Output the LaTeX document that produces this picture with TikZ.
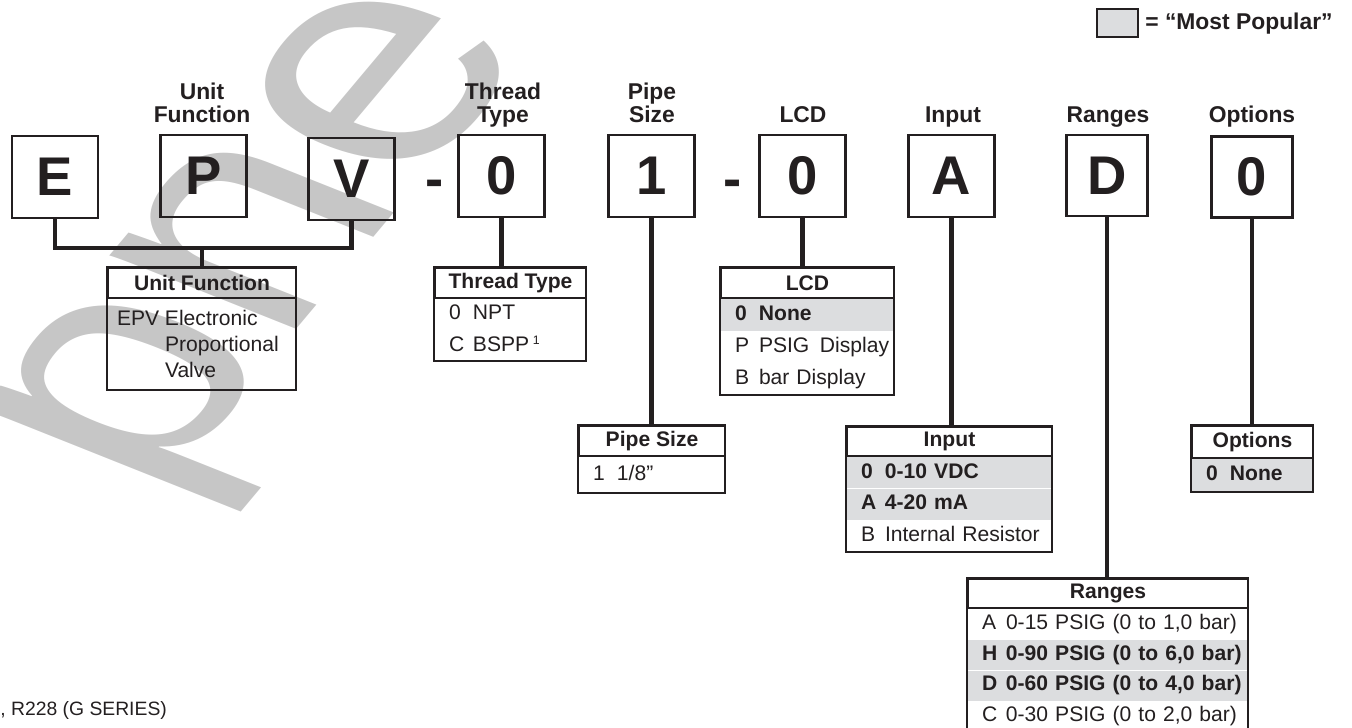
\documentclass[tikz,border=0pt]{standalone}
\usepackage{fontspec}
\setmainfont{Liberation Sans}
\usepackage{xcolor}
\definecolor{ink}{HTML}{231F20}
\definecolor{popular}{HTML}{DCDDDF}
\definecolor{stamp}{HTML}{C6C6C6}
\usepackage{tikz}
\usetikzlibrary{positioning}

\newcommand{\opt}[2]{\hspace*{0.28cm}\makebox[0.48cm][l]{#1}#2}

\begin{document}
\begin{tikzpicture}[
  letter/.style={draw=ink,line width=1.3pt,minimum width=1.72cm,minimum height=1.64cm,
    inner sep=0pt,text=ink,font=\fontsize{31}{31}\selectfont\bfseries},
  fieldtitle/.style={font=\fontsize{13}{13.6}\selectfont\bfseries,text=ink,align=center,
    inner sep=0pt,anchor=base},
  hdr/.style={draw=ink,line width=1.1pt,minimum width=#1,minimum height=0.6cm,inner sep=0pt,
    anchor=north,text=ink,font=\fontsize{12}{14}\selectfont\bfseries},
  row/.style={text width=#1,minimum height=0.62cm,inner sep=0pt,align=left,text=ink,
    text height=8.6pt,text depth=2.6pt,font=\fontsize{12}{14}\selectfont},
  pop/.style={row=#1,fill=popular,font=\fontsize{12}{14}\selectfont\bfseries},
  note/.style={text width=#1,minimum height=1.8cm,inner xsep=0.18cm,inner ysep=0pt,
    align=left,text=ink,font=\fontsize{12}{14.8}\selectfont},
  frame/.style={draw=ink,line width=1.1pt},
  line/.style={ink,line width=2.6pt}]
  \useasboundingbox (0,0) rectangle (27.04,-14.56);

  % --- Filigrane ---
  \node[anchor=base west,inner sep=0pt,rotate=50,xslant=-0.33,text=stamp,
        font=\fontsize{205}{205}\selectfont] (stampword) at (3.04,-10.04) {pne};

  % --- Legende ---
  \node[draw=ink,line width=0.8pt,fill=popular,minimum width=0.82cm,minimum height=0.56cm,
        inner sep=0pt] (key) at (22.35,-0.46) {};
  \node[anchor=west,inner sep=0pt,text=ink,font=\fontsize{13}{15}\selectfont\bfseries]
        (keytext) at (22.90,-0.48) {= “Most Popular”};

  % --- Cases du code ---
  \node[letter] (E)  at (1.10,-3.54)  {E};
  \node[letter] (P)  at (4.07,-3.52)  {P};
  \node[letter] (V)  at (7.03,-3.58)  {V};
  \node[letter] (T0) at (10.03,-3.52) {0};
  \node[letter] (S1) at (13.03,-3.52) {1};
  \node[letter] (L0) at (16.05,-3.52) {0};
  \node[letter] (In) at (19.03,-3.52) {A};
  \node[letter,minimum width=1.62cm,minimum height=1.62cm] (Rg) at (22.14,-3.51) {D};
  \node[letter,minimum width=1.62cm,minimum height=1.62cm] (Op) at (25.04,-3.54) {0};
  \node[anchor=base,inner sep=0pt,text=ink,font=\fontsize{31}{31}\selectfont\bfseries]
        (dashA) at (8.69,-3.96) {-};
  \node[anchor=base,inner sep=0pt,text=ink,font=\fontsize{31}{31}\selectfont\bfseries]
        (dashB) at (14.65,-3.96) {-};

  % --- Titres des champs ---
  \node[fieldtitle] (cUnit)   at (4.04,-2.46)  {Unit\\Function};
  \node[fieldtitle] (cThread) at (10.06,-2.46) {Thread\\Type};
  \node[fieldtitle] (cPipe)   at (13.04,-2.46) {Pipe\\Size};
  \node[fieldtitle] (cLCD)    at (16.06,-2.46) {LCD};
  \node[fieldtitle] (cInput)  at (19.06,-2.46) {Input};
  \node[fieldtitle] (cRanges) at (22.16,-2.46) {Ranges};
  \node[fieldtitle] (cOpt)    at (25.04,-2.46) {Options};

  % --- Tableaux ---
  \node[hdr=3.76cm] (hUnit) at (4.04,-5.34) {Unit Function};
  \node[note=3.40cm,below=0pt of hUnit] (rUnit)
        {\makebox[0.96cm][l]{EPV}\parbox[t]{2.4cm}{Electronic\\Proportional\\Valve}};
  \draw[frame] (hUnit.north west) rectangle (rUnit.south east);

  \node[hdr=3.02cm] (hThread) at (10.21,-5.34) {Thread Type};
  \node[row=3.02cm,minimum height=0.61cm,below=0pt of hThread] (rThreadA) {\opt{0}{NPT}};
  \node[row=3.02cm,minimum height=0.61cm,below=0pt of rThreadA] (rThreadB)
        {\opt{C}{BSPP\,\raisebox{0.55ex}{\fontsize{7}{7}\selectfont 1}}};
  \draw[frame] (hThread.north west) rectangle (rThreadB.south east);

  \node[hdr=2.92cm] (hPipe) at (13.04,-8.50) {Pipe Size};
  \node[row=2.92cm,minimum height=0.7cm,below=0pt of hPipe] (rPipe) {\opt{1}{1/8”}};
  \draw[frame] (hPipe.north west) rectangle (rPipe.south east);

  \node[hdr=3.46cm] (hLCD) at (16.15,-5.34) {LCD};
  \node[pop=3.46cm,minimum height=0.627cm,below=0pt of hLCD] (rLCDA) {\opt{0}{None}};
  \node[row=3.46cm,minimum height=0.627cm,below=0pt of rLCDA] (rLCDB) {\opt{P}{PSIG\, Display}};
  \node[row=3.46cm,minimum height=0.627cm,below=0pt of rLCDB] (rLCDC) {\opt{B}{bar Display}};
  \draw[frame] (hLCD.north west) rectangle (rLCDC.south east);

  \node[hdr=4.10cm,minimum height=0.58cm] (hInput) at (18.99,-8.52) {Input};
  \node[pop=4.10cm,below=0pt of hInput] (rInputA) {\opt{0}{0-10 VDC}};
  \node[pop=4.10cm,below=0pt of rInputA] (rInputB) {\opt{A}{4-20 mA}};
  \node[row=4.10cm,below=0pt of rInputB] (rInputC) {\opt{B}{Internal Resistor}};
  \draw[frame] (hInput.north west) rectangle (rInputC.south east);

  \node[hdr=2.42cm,minimum height=0.64cm] (hOpt) at (25.05,-8.50) {Options};
  \node[pop=2.42cm,minimum height=0.64cm,below=0pt of hOpt] (rOpt) {\opt{0}{None}};
  \draw[frame] (hOpt.north west) rectangle (rOpt.south east);

  \node[hdr=5.60cm,minimum height=0.58cm] (hRanges) at (22.16,-11.56) {Ranges};
  \node[row=5.60cm,minimum height=0.6cm,below=0pt of hRanges] (rRangesA) {\opt{A}{0-15 PSIG (0 to 1,0 bar)}};
  \node[pop=5.60cm,minimum height=0.6cm,below=0pt of rRangesA] (rRangesB) {\opt{H}{0-90 PSIG (0 to 6,0 bar)}};
  \node[pop=5.60cm,minimum height=0.6cm,below=0pt of rRangesB] (rRangesC) {\opt{D}{0-60 PSIG (0 to 4,0 bar)}};
  \node[row=5.60cm,minimum height=0.6cm,below=0pt of rRangesC] (rRangesD) {\opt{C}{0-30 PSIG (0 to 2,0 bar)}};
  \draw[frame] (hRanges.north west) rectangle (rRangesD.south east);

  % --- Liaisons ---
  \coordinate (bus) at (4.04,-4.96);
  \draw[line] (E.south) |- (bus) -| (V.south);
  \draw[line] (bus) -- (hUnit.north);
  \foreach \b/\h in {T0/hThread,S1/hPipe,L0/hLCD,In/hInput,Rg/hRanges,Op/hOpt}
    \draw[line] (\b.south) -- (\b.south |- \h.north);

  % --- Note de bas de page ---
  \node[anchor=west,inner sep=0pt,text=ink,font=\fontsize{11}{13}\selectfont] (foot)
        at (0,-14.2) {, R228 (G SERIES)};
\end{tikzpicture}
\end{document}
